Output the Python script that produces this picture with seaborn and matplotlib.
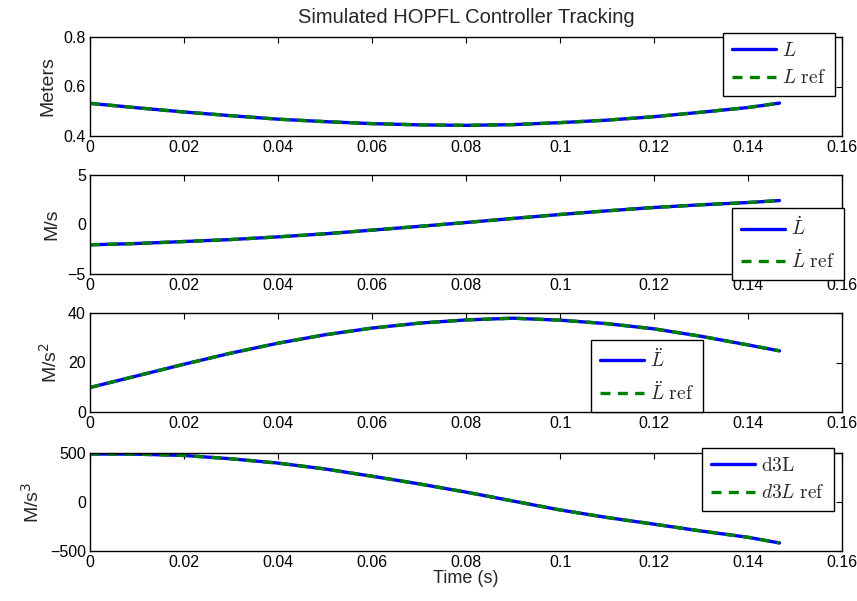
import matplotlib
matplotlib.use("Agg")
import matplotlib.pyplot as plt
import matplotlib.ticker as mticker
import seaborn as sns
import pandas as pd

# Sample times (s)
time_s = [0.0, 0.01, 0.02, 0.03, 0.04, 0.05, 0.06, 0.07, 0.08, 0.09,
          0.10, 0.11, 0.12, 0.13, 0.14, 0.1467]

# Leg length and its derivatives (simulated) and reference trajectories
L = [0.532, 0.514, 0.497, 0.482, 0.468, 0.458, 0.450, 0.445, 0.443, 0.446,
     0.454, 0.464, 0.478, 0.496, 0.515, 0.533]
L_ref = list(L)

Ld = [-2.05, -1.92, -1.72, -1.52, -1.25, -0.94, -0.57, -0.19, 0.20, 0.61,
      1.01, 1.38, 1.72, 1.99, 2.22, 2.42]
Ld_ref = list(Ld)

Ldd = [9.9, 14.6, 19.3, 23.8, 27.8, 31.2, 33.9, 35.9, 37.2, 37.9,
       37.1, 35.7, 33.6, 30.6, 27.1, 24.7]
Ldd_ref = list(Ldd)

d3L = [490, 488, 475, 441, 397, 337, 263, 185, 101, 10,
       -81, -158, -226, -296, -360, -418]
d3L_ref = list(d3L)

x_ticks = [0, 0.02, 0.04, 0.06, 0.08, 0.10, 0.12, 0.14, 0.16]

panels = [
    dict(act=L, ref=L_ref, lab=r"$L$", rlab=r"$L\ \mathrm{ref}$",
         ylabel="Meters", ylim=(0.4, 0.8), yticks=[0.4, 0.6, 0.8],
         box=(90, 37, 842, 136), leg=(723, 33)),
    dict(act=Ld, ref=Ld_ref, lab=r"$\dot{L}$", rlab=r"$\dot{L}\ \mathrm{ref}$",
         ylabel="M/s", ylim=(-5, 5), yticks=[-5, 0, 5],
         box=(90, 175, 842, 274), leg=(732, 208)),
    dict(act=Ldd, ref=Ldd_ref, lab=r"$\ddot{L}$", rlab=r"$\ddot{L}\ \mathrm{ref}$",
         ylabel="M/s$^2$", ylim=(0, 40), yticks=[0, 20, 40],
         box=(90, 313, 842, 412), leg=(591, 340)),
    dict(act=d3L, ref=d3L_ref, lab=r"$\mathrm{d3L}$", rlab=r"$d3L\ \mathrm{ref}$",
         ylabel="M/s$^3$", ylim=(-500, 500), yticks=[-500, 0, 500],
         box=(90, 453, 842, 551), leg=(702, 448)),
]

sns.set_style("white")
plt.rcParams["font.family"] = ["Liberation Sans", "DejaVu Sans"]
plt.rcParams["mathtext.fontset"] = "cm"

W, H = 857, 601
fig = plt.figure(figsize=(W / 100, H / 100), dpi=100)

for i, p in enumerate(panels):
    x0, y0, x1, y1 = p["box"]
    ax = fig.add_axes([x0 / W, 1 - y1 / H, (x1 - x0) / W, (y1 - y0) / H])
    df = pd.DataFrame({"t": time_s, "v": p["act"], "r": p["ref"]})
    sns.lineplot(data=df, x="t", y="v", ax=ax, color="#0000ff", lw=2.4,
                 label=p["lab"])
    sns.lineplot(data=df, x="t", y="r", ax=ax, color="#008000", lw=2.4,
                 linestyle=(0, (3, 2.2)), label=p["rlab"])
    ax.set_xlim(0, 0.16)
    ax.set_ylim(*p["ylim"])
    ax.set_xticks(x_ticks)
    ax.set_yticks(p["yticks"])
    ax.xaxis.set_major_formatter(mticker.FuncFormatter(lambda v, _: f"{v:g}"))
    ax.yaxis.set_major_formatter(mticker.FuncFormatter(
        lambda v, _: f"{v:g}".replace("-", "\u2212")))
    ax.tick_params(direction="in", length=4, width=0.8, top=True, right=True,
                   labelsize=11.5, colors="black", pad=3)
    for s in ax.spines.values():
        s.set_color("black")
        s.set_linewidth(1.0)
    ax.set_ylabel(p["ylabel"], fontsize=14, math_fontfamily="dejavusans",
                  labelpad=5)
    ax.set_xlabel("Time (s)" if i == 3 else "", fontsize=13, labelpad=0)
    lx, ly = p["leg"]
    leg = ax.legend(loc="upper left", bbox_to_anchor=(lx / W, 1 - ly / H),
                    bbox_transform=fig.transFigure, fontsize=14,
                    frameon=True, fancybox=False, framealpha=1,
                    edgecolor="black", handlelength=2.3, handletextpad=0.3,
                    borderpad=0.45, labelspacing=0.5, borderaxespad=0)
    leg.get_frame().set_linewidth(1.0)
    if i == 0:
        ax.set_title("Simulated HOPFL Controller Tracking", fontsize=14.5,
                     pad=10)

fig.savefig("out.png", dpi=100)
